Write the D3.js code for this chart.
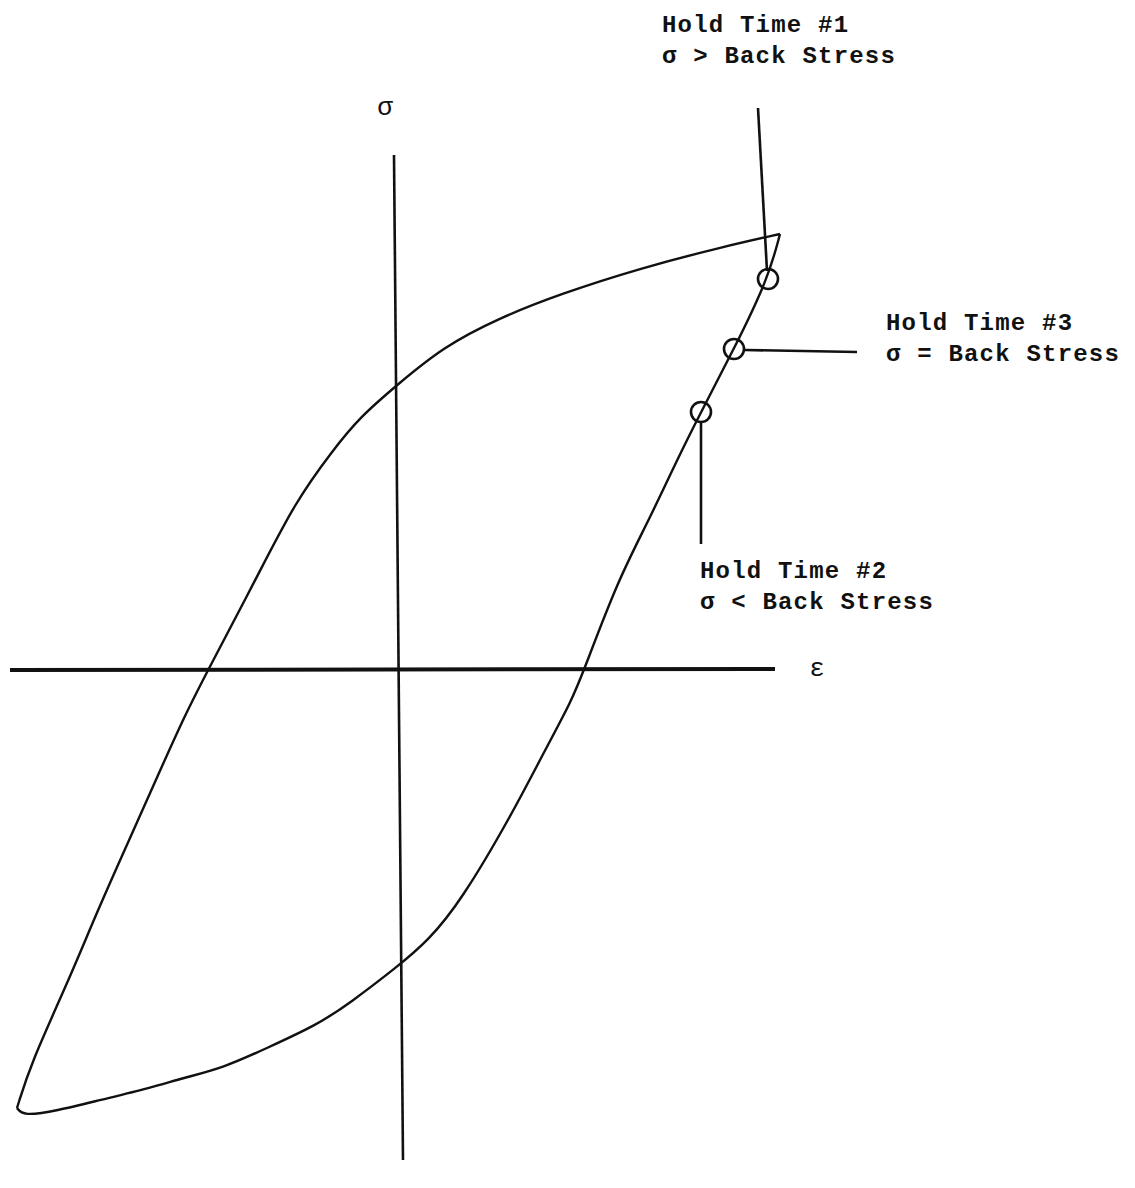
<html>
<head>
  <script src="https://cdn.jsdelivr.net/npm/d3@7"></script>
  <style>
    body { margin: 0; background: #fff; }
    text { font-family: "Liberation Mono", "Courier New", monospace; fill: #111; }
  </style>
</head>
<body>
<div id="content"></div>
<script>
  // strain / stress in arbitrary units, origin at the axes crossing
  const loading = [
    [-3.80, -4.38], [-3.66, -3.93], [-3.29, -3.12], [-3.00, -2.42], [-2.71, -1.77],
    [-2.38, -1.03], [-2.13, -0.47], [-1.89, 0.00], [-1.42, 0.89], [-1.02, 1.68],
    [-0.64, 2.20], [-0.37, 2.53], [0.00, 2.85], [0.46, 3.23], [1.02, 3.52],
    [1.63, 3.76], [2.44, 4.02], [3.25, 4.23], [3.83, 4.36]
  ];
  const unloading = [
    [3.83, 4.36], [3.71, 3.91], [3.37, 3.21], [3.04, 2.58], [2.80, 2.10],
    [2.52, 1.50], [2.21, 0.90], [1.87, 0.00], [1.75, -0.30], [1.47, -0.82],
    [1.14, -1.46], [0.64, -2.31], [0.31, -2.71], [0.00, -2.97], [-0.47, -3.33],
    [-0.80, -3.55], [-1.30, -3.78], [-1.74, -3.98], [-2.14, -4.08], [-2.47, -4.18],
    [-2.97, -4.30], [-3.41, -4.41], [-3.74, -4.46], [-3.80, -4.38]
  ];
  const epsAxis = [[-3.87, 0.00], [3.78, 0.01]];
  const sigAxis = [[-0.03, 5.15], [0.06, -4.90]];

  const holdNames = ["Hold Time #1", "Hold Time #3", "Hold Time #2"];
  const holdConds = ["σ > Back Stress", "σ = Back Stress", "σ < Back Stress"];
  const holdPoints = [[3.71, 3.91], [3.37, 3.21], [3.04, 2.58]];
  const holdLeaders = [
    [[3.61, 5.62], [3.70, 3.99]],
    [[3.48, 3.20], [4.60, 3.18]],
    [[3.04, 2.48], [3.04, 1.26]]
  ];
  const holdLabelAt = [[2.65, 6.38], [4.89, 3.40], [3.03, 0.92]];

  const width = 1135, height = 1188;

  const x = d3.scaleLinear().domain([-3.87, 3.78]).range([10, 775]);
  const y = d3.scaleLinear().domain([-4.90, 5.15]).range([1160, 155]);

  const svg = d3.select("#content").append("svg")
    .attr("width", width)
    .attr("height", height);

  const line = d3.line().x(d => x(d[0])).y(d => y(d[1]));
  const curve = d3.line().curve(d3.curveBasis).x(d => x(d[0])).y(d => y(d[1]));

  // axes
  svg.append("path").attr("d", line(epsAxis))
    .attr("stroke", "#111").attr("stroke-width", 4).attr("fill", "none");
  svg.append("path").attr("d", line(sigAxis))
    .attr("stroke", "#111").attr("stroke-width", 2.6).attr("fill", "none");

  svg.append("text")
    .attr("x", x(-0.12)).attr("y", y(5.55))
    .attr("text-anchor", "middle")
    .attr("font-size", 26)
    .text("σ");
  svg.append("text")
    .attr("x", x(4.20)).attr("y", y(-0.06))
    .attr("text-anchor", "middle")
    .attr("font-size", 26)
    .text("ε");

  // hysteresis loop
  svg.append("g")
    .attr("fill", "none")
    .attr("stroke", "#111")
    .attr("stroke-width", 2.4)
    .attr("stroke-linejoin", "round")
    .selectAll("path")
    .data([loading, unloading])
    .join("path")
    .attr("d", curve);

  // leaders
  svg.append("g")
    .attr("stroke", "#111")
    .attr("stroke-width", 2.6)
    .selectAll("path")
    .data(holdLeaders)
    .join("path")
    .attr("d", line);

  // hold time markers
  svg.append("g")
    .attr("fill", "none")
    .attr("stroke", "#111")
    .attr("stroke-width", 2.6)
    .selectAll("circle")
    .data(holdPoints)
    .join("circle")
    .attr("cx", d => x(d[0]))
    .attr("cy", d => y(d[1]))
    .attr("r", 10);

  // labels
  const lab = svg.append("g")
    .attr("font-size", 24)
    .attr("font-weight", "bold")
    .attr("letter-spacing", 1.2)
    .selectAll("text")
    .data(holdLabelAt)
    .join("text")
    .attr("x", d => x(d[0]))
    .attr("y", d => y(d[1]));
  lab.append("tspan").text((d, i) => holdNames[i]);
  lab.append("tspan")
    .attr("x", d => x(d[0]))
    .attr("dy", 31)
    .text((d, i) => holdConds[i]);
</script>
</body>
</html>
